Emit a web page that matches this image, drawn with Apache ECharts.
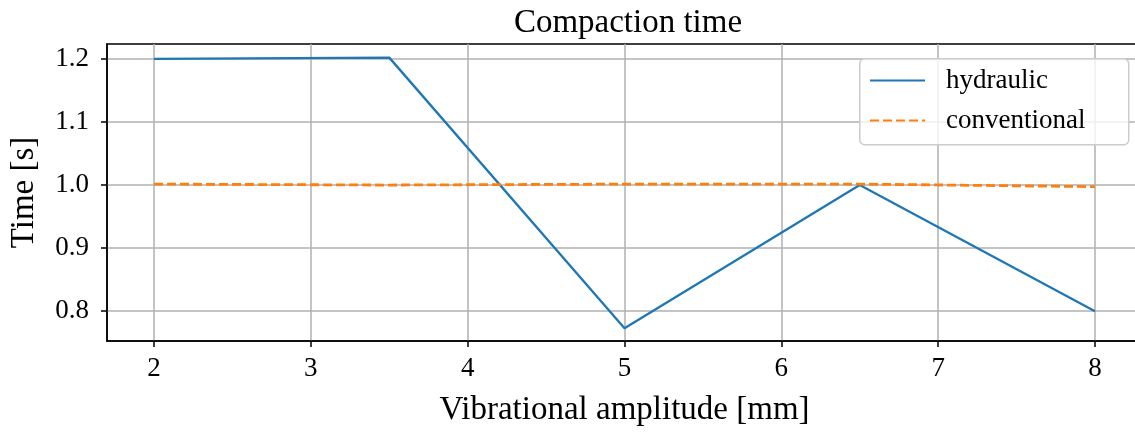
<!DOCTYPE html>
<html>
<head>
<meta charset="utf-8">
<script src="https://cdn.jsdelivr.net/npm/echarts@6/dist/echarts.min.js"></script>
<style>
html,body{margin:0;padding:0;background:#fff;overflow:hidden;width:1135px;height:432px;}
#chart{width:1142px;height:432px;}
</style>
</head>
<body>
<div id="chart"></div>
<script>
const amplitude = [2, 3.5, 5, 6.5, 8];
const hydraulic = [1.2, 1.202, 0.773, 1.0, 0.8];
const conventional = [1.0015, 1.0, 1.0015, 1.0015, 0.9975];
const xTicks = [2, 3, 4, 5, 6, 7, 8];
const yTicks = [0.8, 0.9, 1.0, 1.1, 1.2];

const FONT = 'Liberation Serif';
const chart = echarts.init(document.getElementById('chart'), null, {renderer: 'canvas'});
chart.setOption({
  animation: false,
  backgroundColor: '#ffffff',
  title: {
    text: 'Compaction time',
    left: 623, top: 2, textAlign: 'center',
    textStyle: {fontFamily: FONT, fontSize: 33, fontWeight: 'normal', color: '#000'}
  },
  grid: {left: 105, right: 0, top: 44, bottom: 89, show: true, borderColor: '#000', borderWidth: 1.5, backgroundColor: 'transparent'},
  graphic: [{
    type: 'rect', left: 859, top: 58, z: 10, silent: true,
    shape: {width: 269, height: 86, r: 5},
    style: {fill: 'rgba(255,255,255,0.8)', stroke: '#cccccc', lineWidth: 1.5}
  }],
  legend: {
    orient: 'vertical', left: 859, top: 58, z: 11,
    itemWidth: 55, itemHeight: 20, itemGap: 13,
    padding: [9, 10, 11, 10],
    backgroundColor: 'transparent', borderWidth: 0,
    itemStyle: {color: 'transparent', borderWidth: 0, opacity: 0},
    textStyle: {fontFamily: FONT, fontSize: 27, color: '#000', padding: [0, 0, 0, 16]},
    data: ['hydraulic', 'conventional']
  },
  xAxis: {
    type: 'value', min: 1.7, max: 8.3,
    name: 'Vibrational amplitude [mm]', nameLocation: 'middle', nameGap: 53,
    nameTextStyle: {fontFamily: FONT, fontSize: 33, color: '#000'},
    axisLine: {show: true, lineStyle: {color: '#000', width: 1.5}},
    axisTick: {show: true, inside: false, length: 6, lineStyle: {color: '#000', width: 1.5}, customValues: xTicks},
    axisLabel: {fontFamily: FONT, fontSize: 27, color: '#000', margin: 14, customValues: xTicks, formatter: v => String(v)},
    splitLine: {show: true, lineStyle: {color: '#b0b0b0', width: 1.5}}
  },
  yAxis: {
    type: 'value', min: 0.7528, max: 1.2236,
    name: 'Time [s]', nameLocation: 'middle', nameGap: 66,
    nameTextStyle: {fontFamily: FONT, fontSize: 33, color: '#000'},
    axisLine: {show: true, lineStyle: {color: '#000', width: 1.5}},
    axisTick: {show: true, inside: false, length: 6, lineStyle: {color: '#000', width: 1.5}, customValues: yTicks},
    axisLabel: {fontFamily: FONT, fontSize: 27, color: '#000', margin: 18, customValues: yTicks, formatter: v => v.toFixed(1)},
    splitLine: {show: true, lineStyle: {color: '#b0b0b0', width: 1.5}}
  },
  series: [
    {
      name: 'hydraulic', type: 'line', symbol: 'none', showSymbol: false,
      data: amplitude.map((x, i) => [x, hydraulic[i]]),
      lineStyle: {color: '#1f77b4', width: 2.3}, itemStyle: {color: '#1f77b4'}, z: 3
    },
    {
      name: 'conventional', type: 'line', symbol: 'none', showSymbol: false,
      data: amplitude.map((x, i) => [x, conventional[i]]),
      lineStyle: {color: '#ff7f0e', width: 2.8, type: [9, 4]}, itemStyle: {color: '#ff7f0e'}, z: 4
    }
  ]
});
</script>
</body>
</html>
